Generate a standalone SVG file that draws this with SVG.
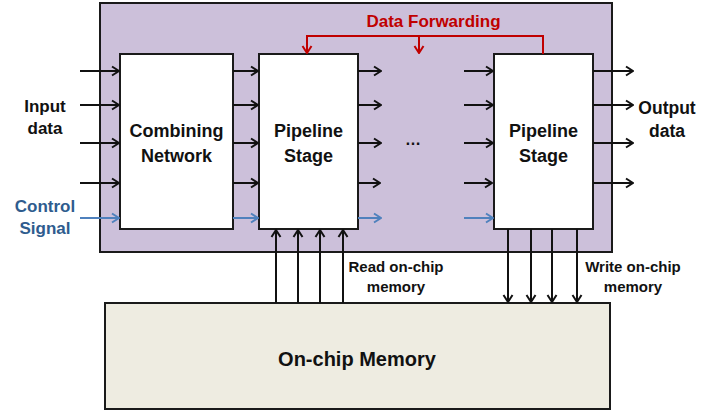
<svg xmlns="http://www.w3.org/2000/svg" width="725" height="411" viewBox="0 0 725 411">
<defs>
<style>
.box{fill:#ffffff;stroke:#1a1a1a;stroke-width:2}
.lbl{font-family:"Liberation Sans",Arial,sans-serif;font-weight:bold;fill:#111;text-anchor:middle}
.blk{stroke:#111;stroke-width:2;fill:none;marker-end:url(#ah)}
.blu{stroke:#4F81BD;stroke-width:2;fill:none;marker-end:url(#ahb)}
.red{stroke:#C00000;stroke-width:2;fill:none}
</style>
<marker id="ah" markerUnits="userSpaceOnUse" markerWidth="10" markerHeight="12" refX="9" refY="6" orient="auto"><path d="M2,1.5 L9,6 L2,10.5" fill="none" stroke="#111" stroke-width="2"/></marker>
<marker id="ahb" markerUnits="userSpaceOnUse" markerWidth="10" markerHeight="12" refX="9" refY="6" orient="auto"><path d="M2,1.5 L9,6 L2,10.5" fill="none" stroke="#4F81BD" stroke-width="2"/></marker>
<marker id="ahr" markerUnits="userSpaceOnUse" markerWidth="10" markerHeight="12" refX="9" refY="6" orient="auto"><path d="M2,1.5 L9,6 L2,10.5" fill="none" stroke="#C00000" stroke-width="2"/></marker>
</defs>

<g id="container">
<rect x="100" y="3" width="512" height="249" fill="#CCC0DA" stroke="#1a1a1a" stroke-width="2"/>
</g>

<g id="memory">
<rect x="105" y="303" width="505" height="106" fill="#EEECE1" stroke="#1a1a1a" stroke-width="2"/>
<text class="lbl" x="357" y="366" font-size="20">On-chip Memory</text>
</g>

<g id="combining">
<rect class="box" x="120" y="54" width="113" height="175"/>
<text class="lbl" x="176.5" y="137" font-size="18">Combining</text>
<text class="lbl" x="176.5" y="162" font-size="18">Network</text>
</g>

<g id="stage1">
<rect class="box" x="259" y="54" width="99" height="175"/>
<text class="lbl" x="308.5" y="137" font-size="18">Pipeline</text>
<text class="lbl" x="308.5" y="162" font-size="18">Stage</text>
</g>

<g id="stage2">
<rect class="box" x="494" y="54" width="99" height="175"/>
<text class="lbl" x="543.5" y="137" font-size="18">Pipeline</text>
<text class="lbl" x="543.5" y="162" font-size="18">Stage</text>
</g>

<g id="labels">
<text class="lbl" x="45" y="112" font-size="17">Input</text>
<text class="lbl" x="45" y="134" font-size="17">data</text>
<text class="lbl" x="45" y="212" font-size="17" style="fill:#2E5C8E">Control</text>
<text class="lbl" x="45" y="234" font-size="17" style="fill:#2E5C8E">Signal</text>
<text class="lbl" x="667" y="114" font-size="17.5">Output</text>
<text class="lbl" x="667" y="137" font-size="17.5">data</text>
<text class="lbl" x="433.5" y="27" font-size="17" style="fill:#C00000">Data Forwarding</text>
<text class="lbl" x="413" y="145" font-size="16">…</text>
<text class="lbl" x="396" y="272" font-size="15">Read on-chip</text>
<text class="lbl" x="396" y="292" font-size="15">memory</text>
<text class="lbl" x="633" y="272" font-size="15">Write on-chip</text>
<text class="lbl" x="633" y="292" font-size="15">memory</text>
</g>

<g id="connectors">
<!-- input data -->
<line class="blk" x1="80" y1="71" x2="119" y2="71"/>
<line class="blk" x1="80" y1="105" x2="119" y2="105"/>
<line class="blk" x1="80" y1="143" x2="119" y2="143"/>
<line class="blk" x1="80" y1="183" x2="119" y2="183"/>
<line class="blu" x1="80" y1="218" x2="119" y2="218"/>
<!-- combining to stage1 -->
<line class="blk" x1="233" y1="71" x2="258" y2="71"/>
<line class="blk" x1="233" y1="105" x2="258" y2="105"/>
<line class="blk" x1="233" y1="143" x2="258" y2="143"/>
<line class="blk" x1="233" y1="183" x2="258" y2="183"/>
<line class="blu" x1="233" y1="218" x2="258" y2="218"/>
<!-- stage1 out -->
<line class="blk" x1="358" y1="71" x2="381" y2="71"/>
<line class="blk" x1="358" y1="105" x2="381" y2="105"/>
<line class="blk" x1="358" y1="143" x2="381" y2="143"/>
<line class="blk" x1="358" y1="183" x2="380" y2="183"/>
<line class="blu" x1="358" y1="218" x2="381" y2="218"/>
<!-- stage2 in -->
<line class="blk" x1="464" y1="71" x2="493" y2="71"/>
<line class="blk" x1="464" y1="105" x2="493" y2="105"/>
<line class="blk" x1="464" y1="143" x2="493" y2="143"/>
<line class="blk" x1="464" y1="183" x2="492" y2="183"/>
<line class="blu" x1="464" y1="218" x2="493" y2="218"/>
<!-- output -->
<line class="blk" x1="593" y1="71" x2="633" y2="71"/>
<line class="blk" x1="593" y1="105" x2="633" y2="105"/>
<line class="blk" x1="593" y1="143" x2="633" y2="143"/>
<line class="blk" x1="593" y1="183" x2="633" y2="183"/>
<!-- read memory -->
<line class="blk" x1="276" y1="303" x2="276" y2="230"/>
<line class="blk" x1="298" y1="303" x2="298" y2="230"/>
<line class="blk" x1="320" y1="303" x2="320" y2="230"/>
<line class="blk" x1="343" y1="303" x2="343" y2="230"/>
<!-- write memory -->
<line class="blk" x1="508" y1="229" x2="508" y2="302"/>
<line class="blk" x1="531" y1="229" x2="531" y2="302"/>
<line class="blk" x1="552" y1="229" x2="552" y2="302"/>
<line class="blk" x1="577" y1="229" x2="577" y2="302"/>
<!-- data forwarding -->
<path class="red" d="M543,54 L543,36 L307,36 L307,53" marker-end="url(#ahr)"/>
<line class="red" x1="419" y1="36" x2="419" y2="53" marker-end="url(#ahr)"/>
</g>
</svg>
